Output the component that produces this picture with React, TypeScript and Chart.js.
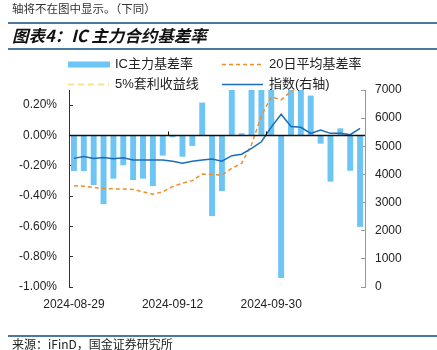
import React, { useEffect, useRef } from "react";
import { Chart, registerables } from "chart.js";

Chart.register(...registerables);

const dates = [
  "2024-08-29", "2024-08-30", "2024-09-02", "2024-09-03", "2024-09-04", "2024-09-05",
  "2024-09-06", "2024-09-09", "2024-09-10", "2024-09-11", "2024-09-12", "2024-09-13",
  "2024-09-18", "2024-09-19", "2024-09-20", "2024-09-23", "2024-09-24", "2024-09-25",
  "2024-09-26", "2024-09-27", "2024-09-30", "2024-10-08", "2024-10-09", "2024-10-10",
  "2024-10-11", "2024-10-14", "2024-10-15", "2024-10-16", "2024-10-17", "2024-10-18",
];

// IC main contract basis rate (%)
const basisRate = [
  -0.235, -0.235, -0.327, -0.453, -0.285, -0.197, -0.294, -0.285, -0.334, -0.133,
  -0.012, -0.14, -0.069, 0.217, -0.532, -0.367, 0.45, 0.015, 0.5, 0.6,
  0.8, -0.94, 0.5, 0.4, 0.263, -0.054, -0.305, 0.047, -0.233, -0.603,
];

// 20-day average basis rate (%)
const avg20 = [
  -0.332, -0.335, -0.343, -0.35, -0.352, -0.354, -0.356, -0.372, -0.387, -0.372,
  -0.338, -0.315, -0.298, -0.255, -0.257, -0.262, -0.217, -0.184, -0.06, 0.13,
  0.255, 0.235, 0.29, 0.34, 0.36, 0.37, 0.36, 0.37, 0.36, 0.34,
];

// 5% arbitrage yield line (%) - outside the visible range
const arb5 = [
  0.42, 0.42, 0.42, 0.42, 0.42, 0.42, 0.42, 0.42, 0.42, 0.42,
  0.42, 0.42, 0.42, 0.42, 0.42, 0.42, 0.42, 0.42, 0.42, 0.42,
  0.42, 0.42, 0.42, 0.42, 0.42, 0.42, 0.42, 0.42, 0.42, 0.42,
];

// CSI 500 index (right axis)
const indexValues = [
  4570, 4640, 4570, 4600, 4560, 4590, 4510, 4510, 4510, 4510,
  4465, 4400, 4465, 4510, 4545, 4470, 4665, 4720, 4925, 5160,
  5680, 6140, 5700, 5675, 5460, 5580, 5460, 5460, 5410, 5640,
];

const legendLabels = ["IC主力基差率", "20日平均基差率", "5%套利收益线", "指数(右轴)"];

const FONT = "'Liberation Sans', 'Noto Sans CJK SC', sans-serif";
const CJK = "'Noto Sans CJK SC', sans-serif";
const LINE_BLUE = "#4a7b9d";

const zeroLinePlugin = {
  id: "zeroLine",
  afterDatasetsDraw(chart: any) {
    const { ctx, chartArea } = chart;
    const y = chart.scales.y.getPixelForValue(0);
    const xs = chart.scales.x;
    ctx.save();
    ctx.strokeStyle = "#111";
    ctx.lineWidth = 1.5;
    ctx.beginPath();
    ctx.moveTo(chartArea.left, y);
    ctx.lineTo(chartArea.right, y);
    ctx.stroke();
    ctx.lineWidth = 1;
    for (let i = 10; i < dates.length; i += 10) {
      const x = Math.round((xs.getPixelForValue(i - 1) + xs.getPixelForValue(i)) / 2) + 0.5;
      ctx.beginPath();
      ctx.moveTo(x, y);
      ctx.lineTo(x, y - 4);
      ctx.stroke();
    }
    ctx.restore();
  },
};

const legendPlugin = {
  id: "customLegend",
  afterDraw(chart: any) {
    const { ctx } = chart;
    const ds = chart.data.datasets;
    const items = [
      { ds: ds[0], x: 68, y: 64.5 },
      { ds: ds[1], x: 222, y: 64.5 },
      { ds: ds[2], x: 68, y: 84.5 },
      { ds: ds[3], x: 222, y: 84.5 },
    ];
    ctx.save();
    items.forEach((it, i) => {
      const d: any = it.ds;
      if (d.type === "bar" || !d.type) {
        ctx.fillStyle = d.backgroundColor;
        ctx.fillRect(it.x, it.y - 3, 42, 6);
      } else {
        ctx.strokeStyle = d.borderColor;
        ctx.lineWidth = d.borderWidth;
        ctx.setLineDash(d.borderDash || []);
        ctx.beginPath();
        ctx.moveTo(it.x, it.y);
        ctx.lineTo(it.x + 41, it.y);
        ctx.stroke();
        ctx.setLineDash([]);
      }
      ctx.fillStyle = "#222";
      ctx.font = `13px ${FONT}`;
      ctx.textBaseline = "middle";
      ctx.textAlign = "left";
      ctx.fillText(legendLabels[i], it.x + 47, it.y);
    });
    ctx.restore();
  },
};

function ChartCanvas() {
  const ref = useRef<HTMLCanvasElement | null>(null);
  useEffect(() => {
    if (!ref.current) return;
    const chart = new Chart(ref.current, {
      type: "bar",
      data: {
        labels: dates,
        datasets: [
          {
            type: "bar",
            label: legendLabels[0],
            data: basisRate,
            yAxisID: "y",
            backgroundColor: "#6cc5f4",
            barPercentage: 0.6,
            categoryPercentage: 1,
            order: 4,
          } as any,
          {
            type: "line",
            label: legendLabels[1],
            data: avg20,
            yAxisID: "y",
            borderColor: "#ef8f2a",
            borderWidth: 1.5,
            borderDash: [4, 3],
            pointRadius: 0,
            tension: 0,
            order: 2,
          },
          {
            type: "line",
            label: legendLabels[2],
            data: arb5,
            yAxisID: "y",
            borderColor: "#ffe08c",
            borderWidth: 2,
            borderDash: [6, 4],
            pointRadius: 0,
            order: 3,
          },
          {
            type: "line",
            label: legendLabels[3],
            data: indexValues,
            yAxisID: "y1",
            borderColor: "#1c6db8",
            borderWidth: 1.5,
            pointRadius: 0,
            tension: 0,
            order: 1,
          },
        ],
      },
      options: {
        animation: false,
        responsive: false,
        layout: { padding: { top: 90, left: 0, right: 0, bottom: 39 } },
        plugins: { legend: { display: false }, tooltip: { enabled: false } },
        scales: {
          x: {
            offset: true,
            grid: { display: false, drawTicks: false },
            border: { display: false },
            ticks: {
              autoSkip: false,
              maxRotation: 0,
              padding: 10,
              color: "#222",
              font: { size: 12, family: FONT },
              callback: (_v: any, i: number) => (i % 10 === 0 ? dates[i] : ""),
            },
            afterFit: (s: any) => {
              s.height = 24;
            },
          },
          y: {
            position: "left",
            min: -1,
            max: 0.3,
            afterBuildTicks: (s: any) => {
              s.ticks = s.ticks.filter((t: any) => t.value <= 0.2001);
            },
            ticks: {
              stepSize: 0.2,
              padding: 16,
              color: "#222",
              font: { size: 12, family: FONT },
              callback: (v: any) => {
                const n = Math.abs(v) < 1e-9 ? 0 : Number(v);
                return n.toFixed(2) + "%";
              },
            },
            grid: { drawOnChartArea: false, tickLength: -4, color: "#333" },
            border: { color: "#333", width: 1 },
            afterFit: (s: any) => {
              s.width = 69;
            },
          },
          y1: {
            position: "right",
            min: 0,
            max: 7000,
            ticks: {
              stepSize: 1000,
              padding: 14,
              color: "#222",
              font: { size: 12, family: FONT },
              callback: (v: any) => String(Math.round(Number(v))),
            },
            grid: { drawOnChartArea: false, tickLength: -4, color: "#999" },
            border: { color: "#999", width: 1 },
            afterFit: (s: any) => {
              s.width = 72;
            },
          },
        },
      },
      plugins: [zeroLinePlugin, legendPlugin],
    });
    return () => chart.destroy();
  }, []);
  return (
    <canvas
      ref={ref}
      width={437}
      height={350}
      style={{ position: "absolute", left: 0, top: 0, width: 437, height: 350 }}
    />
  );
}

export default function App() {
  return (
    <div style={{ position: "absolute", left: 0, top: 0, width: 437, height: 350, background: "#fff", overflow: "hidden" }}>
      <ChartCanvas />
      <div style={{ position: "absolute", left: 12, top: 0, fontFamily: CJK, fontSize: 11.5, lineHeight: "16px", color: "#333" }}>
        轴将不在图中显示。（下同）
      </div>
      <div style={{ position: "absolute", left: 8, right: 0, top: 21.5, height: 2, background: LINE_BLUE }} />
      <div
        style={{
          position: "absolute",
          left: 12,
          top: 25,
          fontFamily: CJK,
          fontSize: 16.5,
          fontWeight: 700,
          fontStyle: "italic",
          lineHeight: "20px",
          color: "#111",
          whiteSpace: "nowrap",
        }}
      >
        图表4：IC 主力合约基差率
      </div>
      <div style={{ position: "absolute", left: 8, right: 0, top: 47.5, height: 2, background: LINE_BLUE }} />
      <div style={{ position: "absolute", left: 8, right: 0, top: 335, height: 1.5, background: LINE_BLUE }} />
      <div style={{ position: "absolute", left: 12, top: 337, fontFamily: CJK, fontSize: 12, lineHeight: "14px", color: "#222", whiteSpace: "nowrap" }}>
        来源：iFinD，国金证券研究所
      </div>
    </div>
  );
}
